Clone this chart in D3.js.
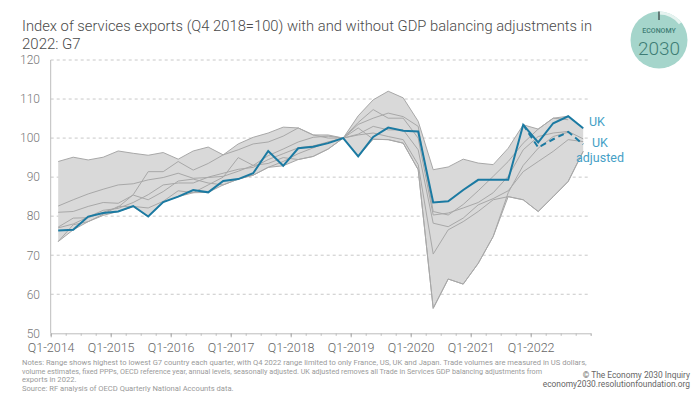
<!DOCTYPE html>
<html>
<head>
<meta charset="utf-8">
<script src="https://cdn.jsdelivr.net/npm/d3@7"></script>
<style>
  body { margin: 0; background: #fff; }
  svg { display: block; font-family: Roboto, "Open Sans", sans-serif; }
</style>
</head>
<body>
<div id="chart"></div>
<script>
// quarters 2014Q1 .. 2022Q4
const years = [2014, 2015, 2016, 2017, 2018, 2019, 2020, 2021, 2022];
const quarters = years.flatMap(y => ["Q1", "Q2", "Q3", "Q4"].map(q => q + "-" + y));
const xTickLabels = ["Q1-2014", "Q1-2015", "Q1-2016", "Q1-2017", "Q1-2018", "Q1-2019", "Q1-2020", "Q1-2021", "Q1-2022"];
const yTicks = [50, 60, 70, 80, 90, 100, 110, 120];

const uk = [76.3, 76.5, 79.9, 80.8, 81.2, 82.6, 79.9, 83.6, 85.0, 86.7,
  86.1, 89.0, 89.5, 91.0, 96.7, 92.9, 97.4, 97.8, 98.7, 100,
  95.3, 100.3, 102.7, 101.9, 101.7, 83.5, 83.8, 86.7, 89.3, 89.3,
  89.3, 103.4, 98.9, 103.8, 105.6, 102.5];
const ukAdjusted = Array(31).fill(null).concat([103.4, 97.6, 99.7, 101.6, 98.4]);

// highest / lowest G7 country each quarter
const rangeHigh = [94.0, 95.1, 94.4, 95.1, 96.7, 96.1, 95.6, 96.3, 94.6, 96.7,
  97.7, 95.7, 98.5, 100.2, 101.3, 102.8, 102.6, 100.8, 100.8, 100,
  105.7, 109.8, 112.0, 110.3, 104.3, 91.9, 92.6, 94.6, 93.6, 93.2,
  97.4, 103.4, 102.3, 105.1, 105.6, 102.5];
const rangeLow = [73.5, 76.5, 78.6, 80.2, 81.2, 82.4, 79.9, 83.6, 85.0, 86.0,
  86.1, 88.0, 89.5, 90.5, 92.5, 92.9, 94.5, 95.3, 97.2, 100,
  95.3, 99.7, 99.6, 98.7, 91.9, 56.4, 63.9, 62.6, 67.9, 74.8,
  85.0, 84.2, 81.2, 85.0, 88.9, 96.6];

// other G7 countries (unlabelled grey lines)
const g7a = [77.2, 79.5, 79.6, 81.0, 82.3, 85.5, 91.4, 91.4, 94.0, 91.8,
  93.5, 95.7, 97.0, 98.5, 99.0, 100.5, 102.6, 100.8, 100.0, 100,
  104.0, 107.3, 105.1, 105.1, 100.0, 80.3, 80.8, 82.1, 83.5, 86.0,
  90.2, 97.0, 100.4, 101.3, 101.7, 99.8];
const g7b = [82.6, 84.2, 85.7, 86.9, 88.0, 88.3, 89.3, 89.9, 91.0, 89.7,
  89.9, 90.2, 91.5, 93.0, 95.5, 97.2, 99.0, 100.2, 100.5, 100,
  103.5, 105.1, 106.4, 105.5, 103.0, 81.2, 80.3, 83.0, 86.5, 90.2,
  94.0, 98.7, 102.3, 105.1, 104.7, null];
const g7c = [81.0, 81.2, 82.5, 83.5, 83.3, 85.4, 84.2, 86.3, 89.0, 89.5,
  88.5, 88.0, 89.5, 90.5, 92.5, 94.0, 96.0, 97.5, 99.0, 100,
  101.0, 103.0, 102.1, 102.1, 97.0, 78.2, 77.3, 79.5, 82.9, 84.5,
  86.5, 91.4, 94.0, 96.6, 99.6, 99.1];
const g7d = [73.5, 77.8, 78.6, 80.5, 82.5, 82.5, 82.1, 83.8, 86.5, 86.0,
  88.0, 90.0, 95.0, 93.0, 93.5, 95.0, 94.5, 95.3, 97.2, 100,
  100.8, 101.3, 100.4, 99.6, 93.2, 70.3, 76.5, 78.6, 81.2, 84.2,
  85.0, 84.2, 81.2, 85.0, 88.9, 96.6];
const g7e = [77.0, 78.0, 79.8, 81.5, 82.0, 83.5, 85.5, 88.0, 88.5, 88.5,
  90.0, 91.0, 92.0, 92.5, 94.5, 96.0, 97.5, 98.0, 99.0, 100,
  102.6, 99.7, 99.6, 98.7, 91.9, 56.4, 63.9, 62.6, 67.9, 74.8,
  86.0, 93.0, 97.4, 100.4, 101.5, null];

const title = ["Index of services exports (Q4 2018=100) with and without GDP balancing adjustments in", "2022: G7"];
const notes = [
  "Notes: Range shows highest to lowest G7 country each quarter, with Q4 2022 range limited to only France, US, UK and Japan. Trade volumes are measured in US dollars,",
  "volume estimates, fixed PPPs, OECD reference year, annual levels, seasonally adjusted. UK adjusted removes all Trade in Services GDP balancing adjustments from",
  "exports in 2022.",
  "Source: RF analysis of OECD Quarterly National Accounts data."
];

const width = 700, height = 394;
const plotLeft = 50.7, plotRight = 590.7, plotTop = 60, plotBottom = 333.3;
const blue = "#1b7aa2", labelBlue = "#45a0c6", grey = "#a8a8a8";

const svg = d3.select("#chart").append("svg")
  .attr("width", width)
  .attr("height", height);

const x = d3.scaleLinear().domain([0, quarters.length]).range([plotLeft, plotRight]);
const y = d3.scaleLinear().domain([50, 120]).range([plotBottom, plotTop]);
const px = i => x(i + 0.5);

// fit text to a width (fonts here are wider than the original's)
const fit = (sel, w) => {
  sel.each(function () {
    if (this.getComputedTextLength() > w) {
      d3.select(this).attr("textLength", w).attr("lengthAdjust", "spacingAndGlyphs");
    }
  });
};

// title
svg.selectAll(".title")
  .data(title)
  .join("text")
  .attr("class", "title")
  .attr("x", 22)
  .attr("y", (d, i) => 31 + i * 17.5)
  .attr("fill", "#4a4a4a")
  .attr("font-size", 15)
  .attr("font-weight", 300)
  .text(d => d)
  .call(sel => fit(sel.filter((d, i) => i == 0), 570));

// gridlines
svg.append("g")
  .selectAll("line")
  .data(yTicks.filter(d => d > 50))
  .join("line")
  .attr("x1", plotLeft)
  .attr("x2", plotRight)
  .attr("y1", d => y(d))
  .attr("y2", d => y(d))
  .attr("stroke", "#c8c8c8")
  .attr("stroke-dasharray", "3,3");

// y axis
svg.append("line")
  .attr("x1", plotLeft).attr("x2", plotLeft)
  .attr("y1", plotTop).attr("y2", plotBottom)
  .attr("stroke", "#bdbdbd");
svg.append("g")
  .selectAll("text")
  .data(yTicks)
  .join("text")
  .attr("x", 40)
  .attr("y", d => y(d) + 4.3)
  .attr("text-anchor", "end")
  .attr("fill", "#777")
  .attr("font-size", 12)
  .attr("font-weight", 300)
  .text(d => d);

// x axis: minor ticks every quarter, labelled ticks on Q1
svg.append("g")
  .attr("transform", `translate(0,${plotBottom})`)
  .call(d3.axisBottom(x).tickValues(d3.range(0, quarters.length + 1)).tickSize(2.5).tickFormat(""))
  .call(g => g.select(".domain").attr("stroke", "#bdbdbd"))
  .call(g => g.selectAll(".tick line").attr("stroke", "#bdbdbd"));
svg.append("g")
  .attr("transform", `translate(0,${plotBottom})`)
  .call(d3.axisBottom(x)
    .tickValues(xTickLabels.map(d => quarters.indexOf(d)))
    .tickSize(4)
    .tickPadding(6)
    .tickFormat(i => quarters[i]))
  .call(g => g.select(".domain").remove())
  .call(g => g.selectAll(".tick line").attr("stroke", "#aaa"))
  .call(g => g.selectAll(".tick text")
    .attr("fill", "#666")
    .attr("font-size", 12.5)
    .attr("font-weight", 300)
    .attr("font-family", "Roboto, sans-serif"));

// range band
const area = d3.area()
  .x((d, i) => px(i))
  .y0((d, i) => y(rangeLow[i]))
  .y1(d => y(d));
svg.append("path")
  .datum(rangeHigh)
  .attr("d", area)
  .attr("fill", "#d9d9d9");

const line = d3.line()
  .defined(d => d != null)
  .x((d, i) => px(i))
  .y(d => y(d));

svg.append("g")
  .selectAll("path")
  .data([rangeHigh, rangeLow, g7a, g7b, g7c, g7d, g7e])
  .join("path")
  .attr("d", line)
  .attr("fill", "none")
  .attr("stroke", grey)
  .attr("stroke-width", 1);

// UK lines
svg.append("path")
  .datum(ukAdjusted)
  .attr("d", line)
  .attr("fill", "none")
  .attr("stroke", blue)
  .attr("stroke-width", 2)
  .attr("stroke-dasharray", "6,4");
svg.append("path")
  .datum(uk)
  .attr("d", line)
  .attr("fill", "none")
  .attr("stroke", blue)
  .attr("stroke-width", 2);

// series labels
const lab = svg.append("g")
  .attr("fill", labelBlue)
  .attr("font-size", 12.5)
  .attr("font-weight", 400);
lab.append("text").attr("x", 589).attr("y", y(uk[35]) - 2).text("UK");
lab.append("text").attr("x", 600).attr("y", y(ukAdjusted[35]) + 3).attr("text-anchor", "middle").text("UK");
lab.append("text").attr("x", 600).attr("y", y(ukAdjusted[35]) + 18).attr("text-anchor", "middle").text("adjusted");

// notes
svg.selectAll(".note")
  .data(notes)
  .join("text")
  .attr("class", "note")
  .attr("x", 22)
  .attr("y", (d, i) => 365 + i * 8.6)
  .attr("fill", "#9a9a9a")
  .attr("font-size", 7.6)
  .text(d => d)
  .call(sel => fit(sel.filter((d, i) => i == 0), 568))
  .call(sel => fit(sel.filter((d, i) => i == 1), 520));

const credit = svg.append("g")
  .attr("fill", "#666")
  .attr("font-size", 8.4)
  .attr("text-anchor", "end");
credit.append("text").attr("x", 690).attr("y", 378).text("\u00a9 The Economy 2030 Inquiry");
credit.append("text").attr("x", 690).attr("y", 387).text("economy2030.resolutionfoundation.org");

// logo
const logo = svg.append("g").attr("transform", "translate(659,40)");
logo.append("circle").attr("r", 28.5).attr("fill", "#a5d5cb");
logo.append("path")
  .attr("d", d3.arc()({ innerRadius: 25.5, outerRadius: 28.5, startAngle: 0, endAngle: 0.9 }))
  .attr("fill", "#e6f3f0");
logo.append("line").attr("x1", 0).attr("x2", 0).attr("y1", -28.5).attr("y2", -20)
  .attr("stroke", "#4a5a58").attr("stroke-width", 1.5);
logo.append("text").attr("y", -7).attr("text-anchor", "middle")
  .attr("fill", "#3e7d75").attr("font-size", 7).attr("font-weight", 500)
  .text("ECONOMY");
logo.append("text").attr("y", 15).attr("text-anchor", "middle")
  .attr("fill", "#3e7d75").attr("font-size", 19).attr("font-weight", 300)
  .text("2030");
</script>
</body>
</html>
